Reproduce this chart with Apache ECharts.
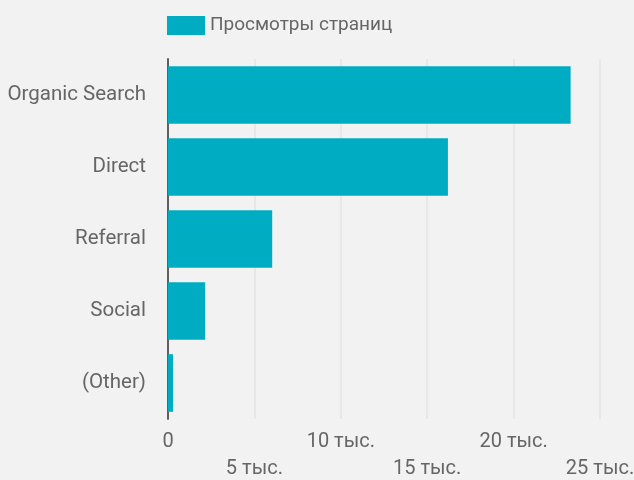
<!DOCTYPE html>
<html>
<head>
<meta charset="utf-8">
<script src="https://cdn.jsdelivr.net/npm/echarts@6/dist/echarts.min.js"></script>
<style>
  html, body { margin: 0; padding: 0; background: #f2f2f2; }
  #chart { width: 634px; height: 480px; }
</style>
</head>
<body>
<div id="chart"></div>
<script>
    // traffic sources, page views
    var sources = ['Organic Search', 'Direct', 'Referral', 'Social', '(Other)'];
    var pageViews = [23300, 16200, 6030, 2150, 290];
    var seriesName = 'Просмотры страниц';

    var myChart = echarts.init(document.getElementById('chart'));
    var option = {
        backgroundColor: '#f2f2f2',
        textStyle: { fontFamily: 'Roboto' },
        legend: {
            left: 162,
            top: 11,
            itemWidth: 38,
            itemHeight: 19,
            itemGap: 10,
            icon: 'rect',
            textStyle: { color: '#666', fontSize: 19, fontFamily: 'Roboto' },
            data: [seriesName]
        },
        grid: {
            left: 168,
            right: 34,
            top: 59,
            bottom: 61,
            outerBoundsMode: 'none'
        },
        xAxis: {
            type: 'value',
            min: 0,
            max: 25000,
            interval: 5000,
            axisLine: { show: false },
            axisTick: { show: false },
            splitLine: { lineStyle: { color: '#e8e8e8', width: 2 } },
            axisLabel: {
                color: '#666',
                fontSize: 20,
                fontFamily: 'Roboto',
                lineHeight: 27,
                margin: 9,
                hideOverlap: false,
                formatter: function(v, i){
                    var s = v === 0 ? '0' : (v / 1000) + ' тыс.';
                    return (v / 5000) % 2 ? '\n' + s : s;
                }
            }
        },
        yAxis: {
            type: 'category',
            inverse: true,
            data: sources,
            axisLine: { lineStyle: { color: '#5f5f5f', width: 2 } },
            axisTick: { show: false },
            axisLabel: {
                color: '#666',
                fontSize: 20.5,
                fontFamily: 'Roboto',
                margin: 22,
                padding: [4, 0, 0, 0]
            }
        },
        series: [
            {
                name: seriesName,
                type: 'bar',
                data: pageViews,
                barCategoryGap: '20%',
                itemStyle: { color: '#00acc1' }
            }
        ]
    };
    myChart.setOption(option);
</script>
</body>
</html>
